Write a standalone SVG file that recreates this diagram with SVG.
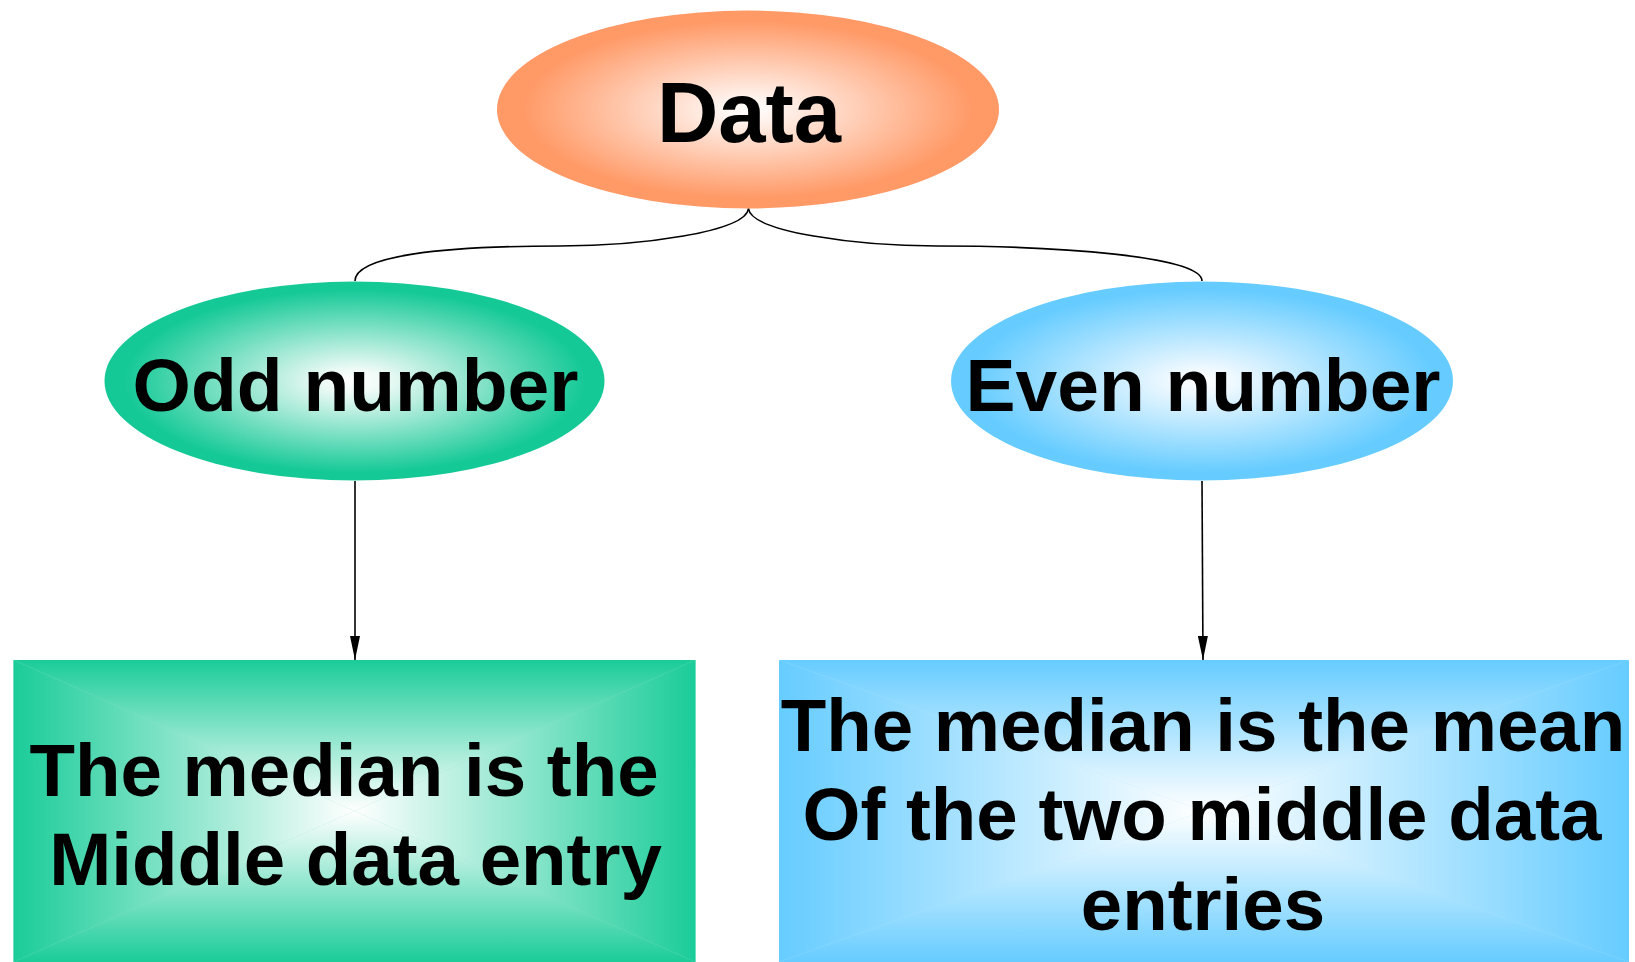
<svg xmlns="http://www.w3.org/2000/svg" width="1635" height="962" viewBox="0 0 1635 962">
  <style>
    .lbl { font-family: "Liberation Sans", Arial, sans-serif; font-weight: bold; fill: #000; text-anchor: middle; }
    .conn { fill: none; stroke: #000; stroke-width: 1.6; }
  </style>
  <defs>
    <radialGradient id="gOrange" cx="0.5" cy="0.5" r="0.5">
      <stop offset="0" stop-color="#ffffff"/>
      <stop offset="0.12" stop-color="#fff3ee"/>
      <stop offset="0.9" stop-color="#ff9966"/>
    </radialGradient>
    <radialGradient id="gGreen" cx="0.5" cy="0.5" r="0.5">
      <stop offset="0" stop-color="#ffffff"/>
      <stop offset="0.12" stop-color="#eefaf6"/>
      <stop offset="0.92" stop-color="#15c997"/>
    </radialGradient>
    <radialGradient id="gBlue" cx="0.5" cy="0.5" r="0.5">
      <stop offset="0" stop-color="#ffffff"/>
      <stop offset="0.12" stop-color="#f0f9ff"/>
      <stop offset="0.92" stop-color="#66ccff"/>
    </radialGradient>

    <!-- rectangular "from centre" shading, one linear ramp per triangle -->
    <linearGradient id="lgT" gradientUnits="userSpaceOnUse" x1="0" y1="660" x2="0" y2="811">
      <stop offset="0" stop-color="#1acc99"/><stop offset="1" stop-color="#ffffff"/>
    </linearGradient>
    <linearGradient id="lgB" gradientUnits="userSpaceOnUse" x1="0" y1="962" x2="0" y2="811">
      <stop offset="0" stop-color="#1acc99"/><stop offset="1" stop-color="#ffffff"/>
    </linearGradient>
    <linearGradient id="lgL" gradientUnits="userSpaceOnUse" x1="13.5" y1="0" x2="354.5" y2="0">
      <stop offset="0" stop-color="#1acc99"/><stop offset="1" stop-color="#ffffff"/>
    </linearGradient>
    <linearGradient id="lgR" gradientUnits="userSpaceOnUse" x1="695.5" y1="0" x2="354.5" y2="0">
      <stop offset="0" stop-color="#1acc99"/><stop offset="1" stop-color="#ffffff"/>
    </linearGradient>

    <linearGradient id="rgT" gradientUnits="userSpaceOnUse" x1="0" y1="660" x2="0" y2="811">
      <stop offset="0" stop-color="#66ccff"/><stop offset="1" stop-color="#ffffff"/>
    </linearGradient>
    <linearGradient id="rgB" gradientUnits="userSpaceOnUse" x1="0" y1="962" x2="0" y2="811">
      <stop offset="0" stop-color="#66ccff"/><stop offset="1" stop-color="#ffffff"/>
    </linearGradient>
    <linearGradient id="rgL" gradientUnits="userSpaceOnUse" x1="779" y1="0" x2="1204" y2="0">
      <stop offset="0" stop-color="#66ccff"/><stop offset="1" stop-color="#ffffff"/>
    </linearGradient>
    <linearGradient id="rgR" gradientUnits="userSpaceOnUse" x1="1629" y1="0" x2="1204" y2="0">
      <stop offset="0" stop-color="#66ccff"/><stop offset="1" stop-color="#ffffff"/>
    </linearGradient>

    <marker id="arrowhead" viewBox="0 0 24 10" refX="24" refY="5" markerWidth="24" markerHeight="10" markerUnits="userSpaceOnUse" orient="auto">
      <path d="M0 0 L24 5 L0 10 Z" fill="#000"/>
    </marker>
  </defs>

  <rect width="1635" height="962" fill="#ffffff"/>

  <!-- connectors -->
  <g id="connectors">
    <path class="conn" d="M748.5 208.5 C746 232 640 246 560 246 C440 246 355 256 355 281"/>
    <path class="conn" d="M748.5 208.5 C751 232 857 246 937 246 C1057 246 1202 256 1202 281"/>
    <path class="conn" d="M355 481 L355 660" marker-end="url(#arrowhead)"/>
    <path class="conn" d="M1202 481 L1203 660" marker-end="url(#arrowhead)"/>
  </g>

  <g id="node-data">
    <ellipse cx="748" cy="109.5" rx="251" ry="99" fill="url(#gOrange)"/>
    <text class="lbl" x="749" y="142" font-size="85">Data</text>
  </g>

  <g id="node-odd">
    <ellipse cx="354.5" cy="381" rx="250" ry="99.5" fill="url(#gGreen)"/>
    <text class="lbl" x="355.5" y="411" font-size="75">Odd number</text>
  </g>

  <g id="node-even">
    <ellipse cx="1202" cy="381" rx="251" ry="99.5" fill="url(#gBlue)"/>
    <text class="lbl" x="1203" y="411" font-size="75">Even number</text>
  </g>

  <g id="node-odd-rule">
    <rect x="13.5" y="660" width="682" height="302" fill="#8fe3cb"/>
    <path d="M13.5 660 L695.5 660 L354.5 811 Z" fill="url(#lgT)"/>
    <path d="M13.5 962 L695.5 962 L354.5 811 Z" fill="url(#lgB)"/>
    <path d="M13.5 660 L13.5 962 L354.5 811 Z" fill="url(#lgL)"/>
    <path d="M695.5 660 L695.5 962 L354.5 811 Z" fill="url(#lgR)"/>
    <text class="lbl" font-size="74.5"><tspan x="344" y="796">The median is the</tspan><tspan x="355.5" y="885">Middle data entry</tspan></text>
  </g>

  <g id="node-even-rule">
    <rect x="779" y="660" width="850" height="302" fill="#b3e5ff"/>
    <path d="M779 660 L1629 660 L1204 811 Z" fill="url(#rgT)"/>
    <path d="M779 962 L1629 962 L1204 811 Z" fill="url(#rgB)"/>
    <path d="M779 660 L779 962 L1204 811 Z" fill="url(#rgL)"/>
    <path d="M1629 660 L1629 962 L1204 811 Z" fill="url(#rgR)"/>
    <text class="lbl" font-size="74.5"><tspan x="1203" y="751">The median is the mean</tspan><tspan x="1202" y="840">Of the two middle data</tspan><tspan x="1203" y="930">entries</tspan></text>
  </g>
</svg>
